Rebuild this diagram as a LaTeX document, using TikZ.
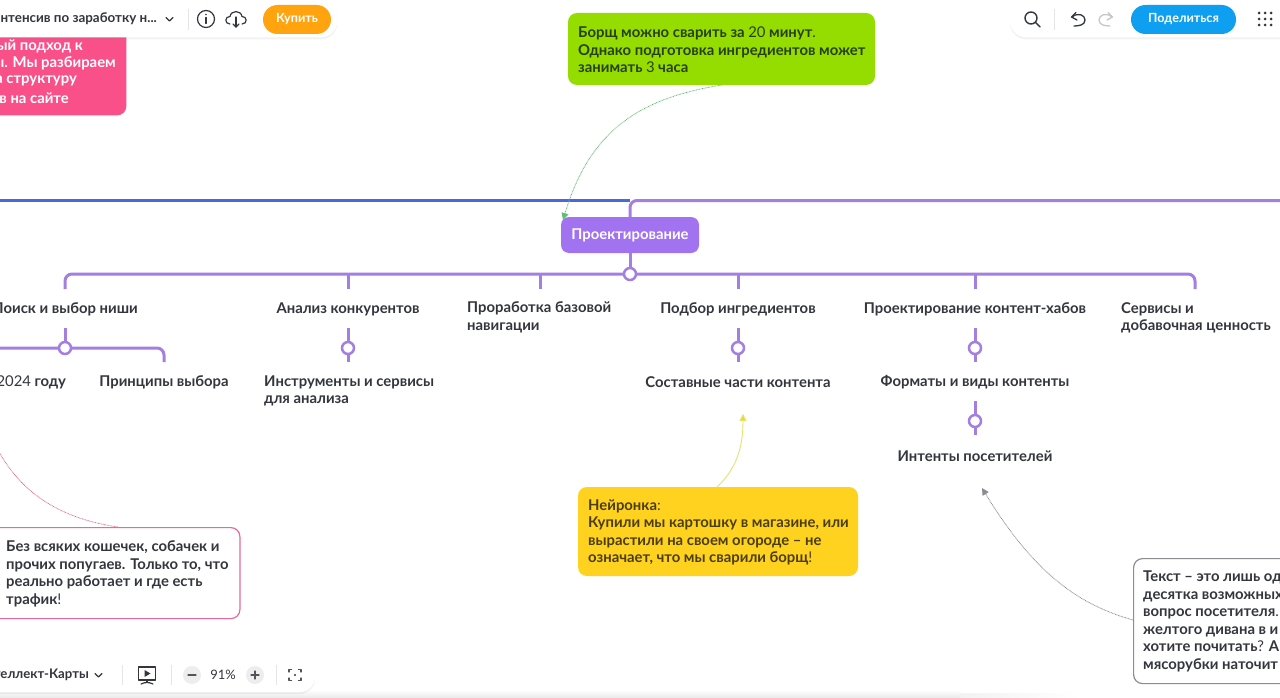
\documentclass[tikz,border=0pt]{standalone}
\usepackage{fontspec}
\setmainfont{Lato}
\usetikzlibrary{arrows.meta,shadows,fadings}
\definecolor{ink}{HTML}{33363D}
\definecolor{purp}{HTML}{A27FE0}
\definecolor{purpbox}{HTML}{A173F0}
\definecolor{bluel}{HTML}{4A68DC}
\definecolor{pinkb}{HTML}{F9508A}
\definecolor{pinkl}{HTML}{E8689A}
\definecolor{greenb}{HTML}{95DD00}
\definecolor{yellowb}{HTML}{FFD21F}
\definecolor{orangeb}{HTML}{FFA30F}
\definecolor{blueb}{HTML}{0E9FF0}
\definecolor{grayl}{HTML}{8A8D92}
\definecolor{greenink}{HTML}{28400F}
\definecolor{yellowink}{HTML}{4A3E10}
\definecolor{greenlink}{HTML}{62BE72}
\definecolor{yellowlink}{HTML}{E2E46E}
\newcommand{\thin}[1]{{\mdseries #1}}
\tikzset{
  bt/.style={font=\fontsize{14.85}{17.5}\selectfont\bfseries,text=ink,inner sep=0pt,align=left,yshift=-1.1pt},
  ct/.style={font=\fontsize{14.85}{17.5}\selectfont\bfseries,text=ink,inner sep=0pt,align=center,yshift=-1.1pt},
  branch/.style={draw=purp,line width=3pt,rounded corners=7pt},
  hub/.style={circle,draw=purp,line width=2.5pt,fill=white,minimum size=12pt,inner sep=0pt},
  notebox/.style={rounded corners=9pt,inner sep=0pt},
  bar/.style={fill=white,rounded corners=16pt,drop shadow={opacity=.10,shadow xshift=0pt,shadow yshift=-2pt}},
  tbtext/.style={font=\fontsize{13.4}{15}\selectfont\bfseries,text=ink,inner sep=0pt},
  btn/.style={rounded corners=14.5pt,text=white,font=\fontsize{12.6}{15}\selectfont\bfseries,inner sep=0pt},
  link/.style={line width=.8pt,dash pattern=on .8pt off .7pt},
  icon/.style={draw=ink,line width=1.2pt,line cap=round,line join=round},
  sep/.style={draw=black!10,line width=1pt}
}
\begin{document}
\begin{tikzpicture}[x=1pt,y=-1pt]
\useasboundingbox (0,0) rectangle (1280,698);
\clip (0,0) rectangle (1280,698);
\fill[white] (0,0) rectangle (1280,698);
% bottom window shadow
\shade[top color=white,bottom color=black!9] (0,690) rectangle (960,698);
\shade[left color=black!5,right color=white] (960,693) rectangle (1080,698);

% main horizontal rail
\coordinate (railL) at (0,200.5);
\coordinate (railM) at (630,200.5);
\coordinate (railR) at (1280,200.5);

% central node
\node[notebox,fill=purpbox,minimum width=138pt,minimum height=36pt,rounded corners=8pt] (proj) at (630,235) {};
\node[font=\fontsize{14.85}{17.5}\selectfont\bfseries,text=white,inner sep=0pt,yshift=-.8pt] (projt) at (630,235) {Проектирование};
\draw[draw=bluel,line width=3pt] (railL) -- (railM);
\draw[branch] (proj.north) -- (railM) -- (railR);
\draw[branch] (proj.south) -- (630,274);

% child hub bus
\coordinate (d1) at (65,289);
\coordinate (d2) at (348,289);
\coordinate (d3) at (540,289);
\coordinate (d4) at (738,289);
\coordinate (d5) at (975,289);
\coordinate (d6) at (1195,289);
\draw[branch] (d1) -- (65,274) -- (1195,274) -- (d6);
\draw[branch,rounded corners=0pt] (d2) -- (348,274);
\draw[branch,rounded corners=0pt] (d3) -- (540,274);
\draw[branch,rounded corners=0pt] (d4) -- (738,274);
\draw[branch,rounded corners=0pt] (d5) -- (975,274);
\node[hub] (hubmain) at (630,274) {};

% first-level labels
\node[ct,anchor=east] (n1) at (138,308) {Поиск и выбор ниши};
\node[ct] (n2) at (348,308) {Анализ конкурентов};
\node[bt,anchor=west] (n3) at (467,316.5) {Проработка базовой\\навигации};
\node[ct] (n4) at (738,308) {Подбор ингредиентов};
\node[ct] (n5) at (975,308) {Проектирование контент-хабов};
\node[bt,anchor=west] (n6) at (1121,316.5) {Сервисы и\\добавочная ценность};

% second-level connectors
\coordinate (h1) at (65,348);
\coordinate (h2) at (348,348);
\coordinate (h4) at (738,348);
\coordinate (h5) at (975,348);
\coordinate (h7) at (975,421);
\coordinate (s1) at (65,328);
\coordinate (s2) at (348,328);
\coordinate (s2b) at (348,362);
\coordinate (s4) at (738,328);
\coordinate (s4b) at (738,362);
\coordinate (s5) at (975,328);
\coordinate (s5b) at (975,362);
\coordinate (s7) at (975,401);
\coordinate (s7b) at (975,435);
\coordinate (e1) at (0,348);
\coordinate (e2) at (164,362);

\draw[branch] (s1) -- (h1);
\draw[branch] (s2) -- (s2b);
\draw[branch] (s4) -- (s4b);
\draw[branch] (s5) -- (s5b);
\draw[branch] (s7) -- (s7b);
\draw[branch] (e1) -- (164,348) -- (e2);
\node[hub] (hh1) at (h1) {};
\node[hub] (hh2) at (h2) {};
\node[hub] (hh4) at (h4) {};
\node[hub] (hh5) at (h5) {};
\node[hub] (hh7) at (h7) {};

% second-level labels
\node[ct,anchor=east] (m1) at (66,381) {\thin{2024} году};
\node[ct] (m2) at (164,381) {Принципы выбора};
\node[bt,anchor=west] (m3) at (264,390) {Инструменты и сервисы\\для анализа};
\node[ct] (m4) at (738,381) {Составные части контента};
\node[ct] (m5) at (975,381) {Форматы и виды контенты};
\node[ct] (m6) at (975,455) {Интенты посетителей};

% green note
\node[notebox,fill=greenb,minimum width=307pt,minimum height=72pt,drop shadow={opacity=.06,shadow xshift=0pt,shadow yshift=0pt}] (gn) at (721.5,49) {};
\node[bt,text=greenink,anchor=west] (gt) at (578,48.6) {Борщ можно сварить за \thin{20} минут\thin{.}\\Однако подготовка ингредиентов может\\занимать \thin{3} часа};
\coordinate (gnA) at (722,85);
\coordinate (gnB) at (563,220);
\draw[link,draw=greenlink,-{Triangle[length=7pt,width=7pt,fill=greenlink]}] (gnA) .. controls (640,98) and (590,130) .. (gnB);

% yellow note
\node[notebox,fill=yellowb,minimum width=280pt,minimum height=89pt] (yn) at (718,531.5) {};
\node[bt,text=yellowink,anchor=west] (yt) at (588,531.5) {Нейронка\thin{:}\\Купили мы картошку в магазине, или\\вырастили на своем огороде – не\\означает, что мы сварили борщ\thin{!}};
\coordinate (ynA) at (717,487);
\coordinate (ynB) at (743,414);
\draw[line width=.9pt,draw=yellowlink,-{Triangle[length=7pt,width=7pt,fill=yellowb]}] (ynA) .. controls (735,470) and (743,450) .. (ynB);

% pink note (top-left)
\node[notebox,fill=pinkb,minimum width=146pt,minimum height=87pt,anchor=south east] (pn) at (126.5,115.5) {};
\node[bt,text=white,anchor=east] (p1) at (83,45) {ый подход к};
\node[bt,text=white,anchor=east] (p2) at (116,62.5) {ы. Мы разбираем};
\node[bt,text=white,anchor=east] (p3) at (77,80) {а структуру};
\node[bt,text=white,anchor=east] (p4) at (69,97.5) {в на сайте};

% pink outlined note
\node[notebox,draw=pinkl,line width=1.2pt,fill=white,minimum width=260pt,minimum height=91pt,anchor=north east] (wn) at (240.5,527) {};
\node[bt,anchor=west] (wt) at (6,573) {Без всяких кошечек, собачек и\\прочих попугаев. Только то, что\\реально работает и где есть\\трафик\thin{!}};
\coordinate (wnA) at (118,527);
\coordinate (wnB) at (-2,450);
\draw[link,draw=pinkl] (wnA) .. controls (70,520) and (25,500) .. (wnB);

% grey outlined note
\node[notebox,draw=grayl,line width=1.2pt,fill=white,minimum width=170pt,minimum height=125pt,anchor=north west] (tn) at (1133,558) {};
\node[bt,anchor=west] (tt) at (1143,620.5) {Текст – это лишь од\\десятка возможных\\вопрос посетителя\thin{.}\\желтого дивана в и\\хотите почитать\thin{?} А\\мясорубки наточит};
\coordinate (tnA) at (1133,620);
\coordinate (tnB) at (982,488);
\draw[link,draw=grayl,-{Triangle[length=7pt,width=7pt,fill=grayl]}] (tnA) .. controls (1080,605) and (1035,575) .. (tnB);

% top-left toolbar
\node[bar,minimum width=367pt,minimum height=50pt,anchor=south west] (tb1) at (-30,37.5) {};
\node[tbtext,anchor=east] (title) at (157,19) {нтенсив по заработку н...};
\draw[icon,line width=1.4pt] (166,17.5) -- (169.5,21) -- (173,17.5);
\draw[sep] (188,9) -- (188,30);
\draw[icon] (206,19) circle (8.5pt);
\fill[ink] (206,14.5) circle (.9pt);
\draw[icon] (206,17.5) -- (206,23.5);
\draw[icon] (230,24) .. controls (224,24) and (225,16) .. (230,16.5) .. controls (231,10) and (241,10) .. (242,16.5) .. controls (247,16) and (248,24) .. (242,24);
\draw[icon] (236,17) -- (236,27);
\draw[icon] (233,24) -- (236,27) -- (239,24);
\node[btn,fill=orangeb,minimum width=68pt,minimum height=29pt] (buy) at (297,19.5) {Купить};

% top-right toolbar
\node[bar,minimum width=300pt,minimum height=50pt,anchor=south west] (tb2) at (1010,37.5) {};
\draw[icon,line width=1.4pt] (1031,18) circle (6pt);
\draw[icon,line width=1.4pt] (1035.5,22.5) -- (1040,27);
\draw[sep] (1054,9) -- (1054,30);
\draw[icon,line width=1.3pt] (1072,17) .. controls (1078,12) and (1085,15) .. (1085,20) .. controls (1085,25) and (1079,26) .. (1074,26);
\draw[icon,line width=1.3pt] (1076,12.5) -- (1071.5,17) -- (1077,20);
\draw[icon,draw=black!22,line width=1.3pt] (1112,17) .. controls (1106,12) and (1099,15) .. (1099,20) .. controls (1099,25) and (1105,26) .. (1110,26);
\draw[icon,draw=black!22,line width=1.3pt] (1108,12.5) -- (1112.5,17) -- (1107,20);
\node[btn,fill=blueb,minimum width=105pt,minimum height=29pt] (share) at (1183.5,19.5) {Поделиться};
\foreach \gx in {1259,1265,1271} \foreach \gy in {13,19,25} \fill[ink] (\gx,\gy) circle (1.5pt);

% bottom-left toolbar
\node[bar,minimum width=345pt,minimum height=32pt,anchor=north west] (tb3) at (-30,660) {};
\node[tbtext,font=\fontsize{13.2}{15}\selectfont\bfseries,anchor=east] (mode) at (89,675) {теллект-Карты};
\draw[icon,line width=1.3pt] (95,673.5) -- (98.5,677) -- (102,673.5);
\draw[sep] (122,665) -- (122,685);
\draw[icon] (138.5,667) rectangle (155.5,680);
\fill[ink] (144.5,670) -- (144.5,677) -- (150.5,673.5) -- cycle;
\draw[icon] (147,680) -- (147,682);
\draw[icon] (141,684) .. controls (145,682) and (149,682) .. (153,684);
\draw[sep] (171,665) -- (171,685);
\fill[black!7] (192,675) circle (9pt);
\draw[icon,draw=ink!85] (188,675) -- (196,675);
\node[tbtext,font=\fontsize{13}{15}\selectfont\mdseries] (zoomv) at (223,675) {91\%};
\fill[black!7] (255,675) circle (9pt);
\draw[icon,draw=ink!85] (251,675) -- (259,675);
\draw[icon,draw=ink!85] (255,671) -- (255,679);
\draw[sep] (276,665) -- (276,685);
\draw[icon,draw=ink!85] (289,672) -- (289,669.5) -- (291.5,669.5);
\draw[icon,draw=ink!85] (298.5,669.5) -- (301,669.5) -- (301,672);
\draw[icon,draw=ink!85] (301,678) -- (301,680.5) -- (298.5,680.5);
\draw[icon,draw=ink!85] (291.5,680.5) -- (289,680.5) -- (289,678);
\fill[ink] (295,675) circle (1.2pt);
\end{tikzpicture}
\end{document}
